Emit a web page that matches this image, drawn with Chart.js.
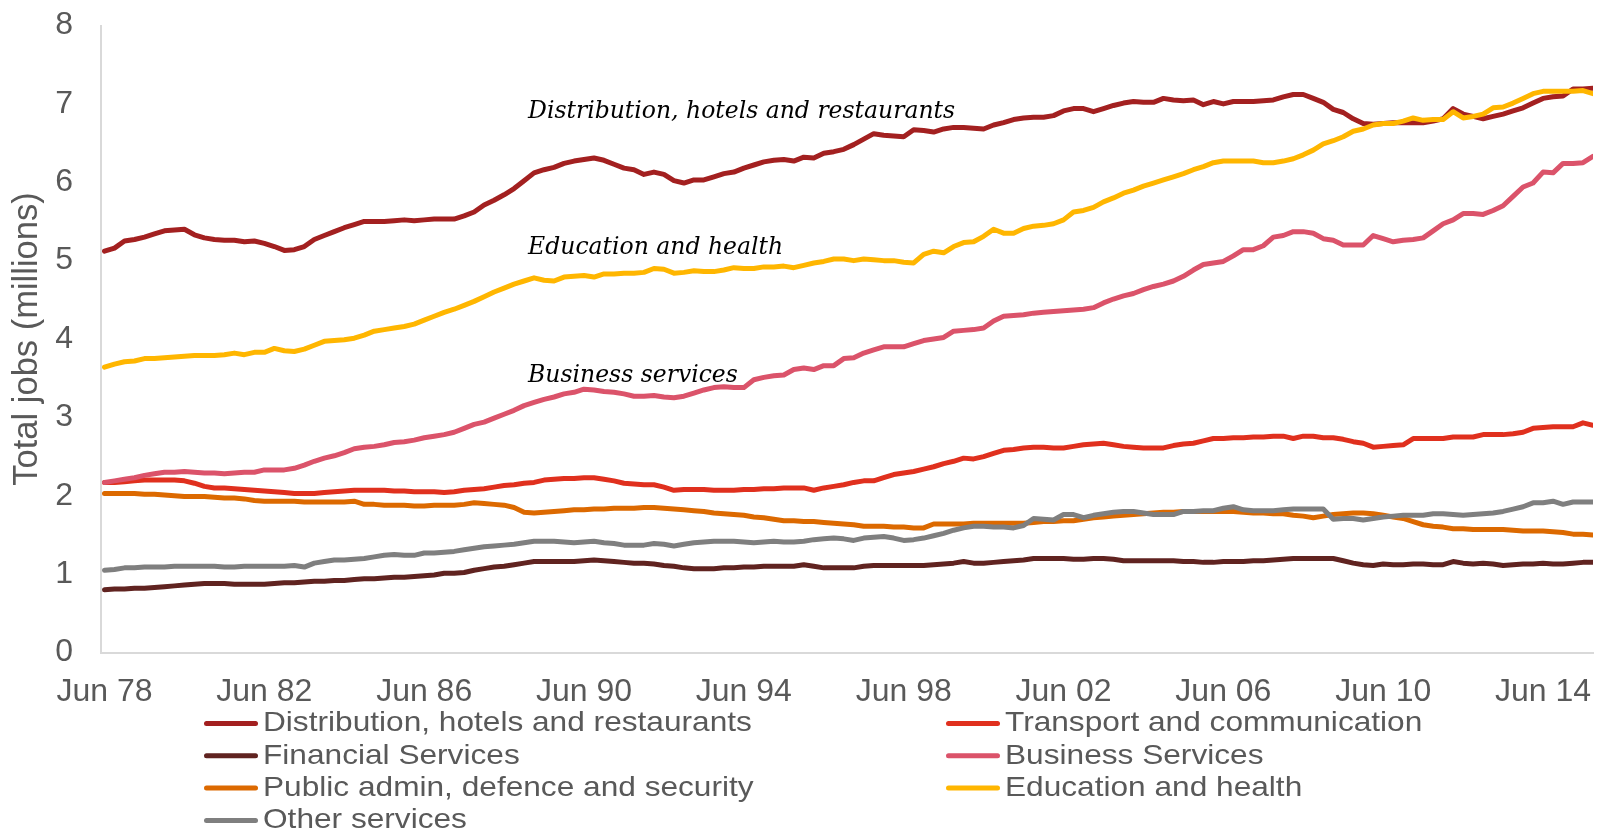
<!DOCTYPE html>
<html>
<head>
<meta charset="utf-8">
<title>Total jobs by sector</title>
<script src="https://cdn.jsdelivr.net/npm/chart.js@4.4.0/dist/chart.umd.min.js"></script>
<style>
	html, body { margin: 0; padding: 0; background: #fff; }
	#chart { display: block; }
</style>
</head>
<body>
<canvas id="chart" width="1604" height="832"></canvas>
<script>
//-------------------------------------------------------------------------------------------------//
//--------------------------------------- Data ----------------------------------------------------//
//-------------------------------------------------------------------------------------------------//

// Quarterly totals in millions of jobs, Jun 78 .. Sep 15 (150 quarters)

var distribution = [
	5.12, 5.16, 5.25, 5.27, 5.30, 5.34, 5.38, 5.39, 5.40, 5.33,
	5.29, 5.27, 5.26, 5.26, 5.24, 5.25, 5.22, 5.18, 5.13, 5.14,
	5.18, 5.27, 5.32, 5.37, 5.42, 5.46, 5.50, 5.50, 5.50, 5.51,
	5.52, 5.51, 5.52, 5.53, 5.53, 5.53, 5.57, 5.62, 5.71, 5.77,
	5.84, 5.92, 6.02, 6.12, 6.16, 6.19, 6.24, 6.27, 6.29, 6.31,
	6.28, 6.23, 6.18, 6.16, 6.10, 6.13, 6.10, 6.02, 5.99, 6.03,
	6.03, 6.07, 6.11, 6.13, 6.18, 6.22, 6.26, 6.28, 6.29, 6.27,
	6.32, 6.31, 6.37, 6.39, 6.42, 6.48, 6.55, 6.62, 6.60, 6.59,
	6.58, 6.67, 6.66, 6.64, 6.68, 6.70, 6.70, 6.69, 6.68, 6.73,
	6.76, 6.80, 6.82, 6.83, 6.83, 6.85, 6.91, 6.94, 6.94, 6.90,
	6.94, 6.98, 7.01, 7.03, 7.02, 7.02, 7.07, 7.05, 7.04, 7.05,
	6.99, 7.03, 7.00, 7.03, 7.03, 7.03, 7.04, 7.05, 7.09, 7.12,
	7.12, 7.07, 7.02, 6.93, 6.89, 6.81, 6.75, 6.74, 6.75, 6.76,
	6.76, 6.76, 6.76, 6.78, 6.81, 6.94, 6.87, 6.84, 6.81, 6.84,
	6.87, 6.91, 6.95, 7.01, 7.07, 7.09, 7.10, 7.19, 7.19, 7.20
];

var transport = [
	2.17, 2.17, 2.18, 2.19, 2.20, 2.20, 2.20, 2.20, 2.19, 2.16,
	2.12, 2.10, 2.10, 2.09, 2.08, 2.07, 2.06, 2.05, 2.04, 2.03,
	2.03, 2.03, 2.04, 2.05, 2.06, 2.07, 2.07, 2.07, 2.07, 2.06,
	2.06, 2.05, 2.05, 2.05, 2.04, 2.05, 2.07, 2.08, 2.09, 2.11,
	2.13, 2.14, 2.16, 2.17, 2.20, 2.21, 2.22, 2.22, 2.23, 2.23,
	2.21, 2.19, 2.16, 2.15, 2.14, 2.14, 2.11, 2.07, 2.08, 2.08,
	2.08, 2.07, 2.07, 2.07, 2.08, 2.08, 2.09, 2.09, 2.10, 2.10,
	2.10, 2.07, 2.10, 2.12, 2.14, 2.17, 2.19, 2.19, 2.23, 2.27,
	2.29, 2.31, 2.34, 2.37, 2.41, 2.44, 2.48, 2.47, 2.50, 2.54,
	2.58, 2.59, 2.61, 2.62, 2.62, 2.61, 2.61, 2.63, 2.65, 2.66,
	2.67, 2.65, 2.63, 2.62, 2.61, 2.61, 2.61, 2.64, 2.66, 2.67,
	2.70, 2.73, 2.73, 2.74, 2.74, 2.75, 2.75, 2.76, 2.76, 2.73,
	2.76, 2.76, 2.74, 2.74, 2.72, 2.69, 2.67, 2.62, 2.63, 2.64,
	2.65, 2.73, 2.73, 2.73, 2.73, 2.75, 2.75, 2.75, 2.78, 2.78,
	2.78, 2.79, 2.81, 2.86, 2.87, 2.88, 2.88, 2.88, 2.93, 2.90
];

var financial = [
	0.80, 0.81, 0.81, 0.82, 0.82, 0.83, 0.84, 0.85, 0.86, 0.87,
	0.88, 0.88, 0.88, 0.87, 0.87, 0.87, 0.87, 0.88, 0.89, 0.89,
	0.90, 0.91, 0.91, 0.92, 0.92, 0.93, 0.94, 0.94, 0.95, 0.96,
	0.96, 0.97, 0.98, 0.99, 1.01, 1.01, 1.02, 1.05, 1.07, 1.09,
	1.10, 1.12, 1.14, 1.16, 1.16, 1.16, 1.16, 1.16, 1.17, 1.18,
	1.17, 1.16, 1.15, 1.14, 1.14, 1.13, 1.11, 1.10, 1.08, 1.07,
	1.07, 1.07, 1.08, 1.08, 1.09, 1.09, 1.10, 1.10, 1.10, 1.10,
	1.12, 1.10, 1.08, 1.08, 1.08, 1.08, 1.10, 1.11, 1.11, 1.11,
	1.11, 1.11, 1.11, 1.12, 1.13, 1.14, 1.16, 1.14, 1.14, 1.15,
	1.16, 1.17, 1.18, 1.20, 1.20, 1.20, 1.20, 1.19, 1.19, 1.20,
	1.20, 1.19, 1.17, 1.17, 1.17, 1.17, 1.17, 1.17, 1.16, 1.16,
	1.15, 1.15, 1.16, 1.16, 1.16, 1.17, 1.17, 1.18, 1.19, 1.20,
	1.20, 1.20, 1.20, 1.20, 1.17, 1.14, 1.12, 1.11, 1.13, 1.12,
	1.12, 1.13, 1.13, 1.12, 1.12, 1.16, 1.14, 1.13, 1.14, 1.13,
	1.11, 1.12, 1.13, 1.13, 1.14, 1.13, 1.13, 1.14, 1.15, 1.15
];

var business = [
	2.17, 2.19, 2.21, 2.23, 2.26, 2.28, 2.30, 2.30, 2.31, 2.30,
	2.29, 2.29, 2.28, 2.29, 2.30, 2.30, 2.33, 2.33, 2.33, 2.35,
	2.39, 2.44, 2.48, 2.51, 2.55, 2.60, 2.62, 2.63, 2.65, 2.68,
	2.69, 2.71, 2.74, 2.76, 2.78, 2.81, 2.86, 2.91, 2.94, 2.99,
	3.04, 3.09, 3.15, 3.19, 3.23, 3.26, 3.30, 3.32, 3.36, 3.35,
	3.33, 3.32, 3.30, 3.27, 3.27, 3.28, 3.26, 3.25, 3.27, 3.31,
	3.35, 3.38, 3.39, 3.38, 3.38, 3.48, 3.51, 3.53, 3.54, 3.61,
	3.63, 3.61, 3.66, 3.66, 3.75, 3.76, 3.82, 3.86, 3.90, 3.90,
	3.90, 3.94, 3.98, 4.00, 4.02, 4.10, 4.11, 4.12, 4.14, 4.23,
	4.29, 4.30, 4.31, 4.33, 4.34, 4.35, 4.36, 4.37, 4.38, 4.40,
	4.46, 4.51, 4.55, 4.58, 4.63, 4.67, 4.70, 4.74, 4.80, 4.88,
	4.95, 4.97, 4.99, 5.06, 5.14, 5.14, 5.19, 5.30, 5.32, 5.37,
	5.37, 5.35, 5.28, 5.26, 5.20, 5.20, 5.20, 5.32, 5.28, 5.24,
	5.26, 5.27, 5.29, 5.38, 5.47, 5.52, 5.60, 5.60, 5.59, 5.64,
	5.70, 5.82, 5.94, 5.99, 6.13, 6.12, 6.24, 6.24, 6.25, 6.33
];

var publicAdmin = [
	2.03, 2.03, 2.03, 2.03, 2.02, 2.02, 2.01, 2.00, 1.99, 1.99,
	1.99, 1.98, 1.97, 1.97, 1.96, 1.94, 1.93, 1.93, 1.93, 1.93,
	1.92, 1.92, 1.92, 1.92, 1.92, 1.93, 1.89, 1.89, 1.88, 1.88,
	1.88, 1.87, 1.87, 1.88, 1.88, 1.88, 1.89, 1.91, 1.90, 1.89,
	1.88, 1.85, 1.79, 1.78, 1.79, 1.80, 1.81, 1.82, 1.82, 1.83,
	1.83, 1.84, 1.84, 1.84, 1.85, 1.85, 1.84, 1.83, 1.82, 1.81,
	1.80, 1.78, 1.77, 1.76, 1.75, 1.73, 1.72, 1.70, 1.68, 1.68,
	1.67, 1.67, 1.66, 1.65, 1.64, 1.63, 1.61, 1.61, 1.61, 1.60,
	1.60, 1.59, 1.59, 1.64, 1.64, 1.64, 1.64, 1.65, 1.65, 1.65,
	1.65, 1.65, 1.65, 1.66, 1.67, 1.67, 1.68, 1.68, 1.70, 1.72,
	1.73, 1.74, 1.75, 1.76, 1.77, 1.78, 1.79, 1.79, 1.80, 1.80,
	1.80, 1.80, 1.80, 1.80, 1.79, 1.78, 1.78, 1.77, 1.77, 1.75,
	1.74, 1.72, 1.74, 1.76, 1.77, 1.78, 1.78, 1.77, 1.75, 1.73,
	1.71, 1.67, 1.63, 1.61, 1.60, 1.58, 1.58, 1.57, 1.57, 1.57,
	1.57, 1.56, 1.55, 1.55, 1.55, 1.54, 1.53, 1.51, 1.51, 1.50
];

var education = [
	3.64, 3.68, 3.71, 3.72, 3.75, 3.75, 3.76, 3.77, 3.78, 3.79,
	3.79, 3.79, 3.80, 3.82, 3.80, 3.83, 3.83, 3.88, 3.85, 3.84,
	3.87, 3.92, 3.97, 3.98, 3.99, 4.01, 4.05, 4.10, 4.12, 4.14,
	4.16, 4.19, 4.24, 4.29, 4.34, 4.38, 4.43, 4.48, 4.54, 4.60,
	4.65, 4.70, 4.74, 4.78, 4.75, 4.74, 4.79, 4.80, 4.81, 4.79,
	4.83, 4.83, 4.84, 4.84, 4.85, 4.90, 4.89, 4.84, 4.85, 4.87,
	4.86, 4.86, 4.88, 4.91, 4.90, 4.90, 4.92, 4.92, 4.93, 4.91,
	4.94, 4.97, 4.99, 5.02, 5.02, 5.00, 5.02, 5.01, 5.00, 5.00,
	4.98, 4.97, 5.08, 5.12, 5.10, 5.18, 5.23, 5.24, 5.31, 5.40,
	5.35, 5.35, 5.41, 5.44, 5.45, 5.47, 5.52, 5.62, 5.64, 5.68,
	5.75, 5.80, 5.86, 5.90, 5.95, 5.99, 6.03, 6.07, 6.11, 6.16,
	6.20, 6.25, 6.27, 6.27, 6.27, 6.27, 6.25, 6.25, 6.27, 6.30,
	6.35, 6.41, 6.49, 6.53, 6.58, 6.65, 6.68, 6.73, 6.75, 6.75,
	6.78, 6.82, 6.79, 6.80, 6.80, 6.90, 6.82, 6.84, 6.87, 6.95,
	6.96, 7.01, 7.07, 7.13, 7.16, 7.16, 7.16, 7.16, 7.17, 7.13
];

var otherServices = [
	1.05, 1.06, 1.08, 1.08, 1.09, 1.09, 1.09, 1.10, 1.10, 1.10,
	1.10, 1.10, 1.09, 1.09, 1.10, 1.10, 1.10, 1.10, 1.10, 1.11,
	1.09, 1.14, 1.16, 1.18, 1.18, 1.19, 1.20, 1.22, 1.24, 1.25,
	1.24, 1.24, 1.27, 1.27, 1.28, 1.29, 1.31, 1.33, 1.35, 1.36,
	1.37, 1.38, 1.40, 1.42, 1.42, 1.42, 1.41, 1.40, 1.41, 1.42,
	1.40, 1.39, 1.37, 1.37, 1.37, 1.39, 1.38, 1.36, 1.38, 1.40,
	1.41, 1.42, 1.42, 1.42, 1.41, 1.40, 1.41, 1.42, 1.41, 1.41,
	1.42, 1.44, 1.45, 1.46, 1.45, 1.43, 1.46, 1.47, 1.48, 1.46,
	1.43, 1.44, 1.46, 1.49, 1.52, 1.56, 1.59, 1.61, 1.61, 1.60,
	1.60, 1.59, 1.62, 1.71, 1.70, 1.69, 1.76, 1.76, 1.72, 1.75,
	1.77, 1.79, 1.80, 1.80, 1.78, 1.76, 1.76, 1.76, 1.80, 1.80,
	1.81, 1.81, 1.84, 1.86, 1.82, 1.81, 1.81, 1.81, 1.82, 1.83,
	1.83, 1.83, 1.83, 1.70, 1.71, 1.71, 1.69, 1.71, 1.73, 1.74,
	1.75, 1.75, 1.75, 1.77, 1.77, 1.76, 1.75, 1.76, 1.77, 1.78,
	1.80, 1.83, 1.86, 1.91, 1.91, 1.93, 1.89, 1.92, 1.92, 1.92
];

// one axis label every four years (16 quarters), starting at the first quarter
var tickLabels = ['Jun 78', 'Jun 82', 'Jun 86', 'Jun 90', 'Jun 94', 'Jun 98', 'Jun 02', 'Jun 06', 'Jun 10', 'Jun 14'];
var quartersPerTick = 16;

// italic notes, anchored at (quarter index, value) of their left baseline
var notes = [
	{ text: 'Distribution, hotels and restaurants', quarter: 42.4, value: 6.82 },
	{ text: 'Education and health', quarter: 42.4, value: 5.08 },
	{ text: 'Business services', quarter: 42.4, value: 3.45 }
];

//-------------------------------------------------------------------------------------------------//
//--------------------------------------- Chart ---------------------------------------------------//
//-------------------------------------------------------------------------------------------------//

var sansFont = '"Liberation Sans", Arial, sans-serif';
var textGrey = '#595959';

function makeSeries(label, values, color, index) {
	return {
		label: label,
		data: values.map((v, i) => ({ x: i, y: v })),
		borderColor: color,
		backgroundColor: color,
		borderWidth: 5,
		pointRadius: 0,
		tension: 0,
		borderJoinStyle: 'round',
		borderCapStyle: 'round',
		// later series sit on top of earlier ones
		order: 10 - index
	};
}

// legend laid out in two columns, read row by row
var columnLegend = {
	id: 'columnLegend',
	afterDraw: function(chart) {
		var ctx = chart.ctx;
		var columns = [204, 946];
		var firstRow = 723.5;
		var rowStep = 32.3;

		ctx.save();
		ctx.font = '28.5px ' + sansFont;
		ctx.textBaseline = 'middle';
		ctx.textAlign = 'left';

		chart.data.datasets.forEach((ds, i) => {
			var x = columns[i % 2];
			var y = firstRow + Math.floor(i / 2) * rowStep;

			ctx.strokeStyle = ds.borderColor;
			ctx.lineWidth = 5;
			ctx.lineCap = 'round';
			ctx.beginPath();
			ctx.moveTo(x + 2.5, y);
			ctx.lineTo(x + 51.5, y);
			ctx.stroke();

			ctx.save();
			ctx.translate(x + 59, y);
			ctx.scale(1.11, 1);
			ctx.fillStyle = textGrey;
			ctx.fillText(ds.label, 0, 0);
			ctx.restore();
		});

		ctx.restore();
	}
};

var seriesNotes = {
	id: 'seriesNotes',
	afterDatasetsDraw: function(chart) {
		var ctx = chart.ctx;
		var xScale = chart.scales.x;
		var yScale = chart.scales.y;

		ctx.save();
		ctx.font = 'italic 23.5px "DejaVu Serif", Georgia, serif';
		ctx.fillStyle = '#000';
		ctx.textAlign = 'left';
		ctx.textBaseline = 'alphabetic';
		notes.forEach(n => {
			ctx.fillText(n.text, xScale.getPixelForValue(n.quarter), yScale.getPixelForValue(n.value));
		});
		ctx.restore();
	}
};

var datasets = [
	makeSeries('Distribution, hotels and restaurants', distribution, '#A32020', 0),
	makeSeries('Transport and communication', transport, '#E0301E', 1),
	makeSeries('Financial Services', financial, '#602320', 2),
	makeSeries('Business Services', business, '#DB536A', 3),
	makeSeries('Public admin, defence and security', publicAdmin, '#DC6900', 4),
	makeSeries('Education and health', education, '#FFB600', 5),
	makeSeries('Other services', otherServices, '#7F7F7F', 6)
];

var ctx = document.getElementById('chart');

new Chart(ctx, {
	type: 'line',
	data: { datasets: datasets },
	plugins: [seriesNotes, columnLegend],
	options: {
		responsive: false,
		animation: false,
		devicePixelRatio: 1,
		layout: { padding: { top: 25.5, right: 11, bottom: 0, left: 0 } },
		plugins: {
			legend: { display: false },
			tooltip: { enabled: false }
		},
		scales: {
			x: {
				type: 'linear',
				min: -0.35,
				max: distribution.length - 1,
				grid: { display: false, drawTicks: false },
				border: { color: '#D9D9D9', width: 2 },
				ticks: {
					font: { family: sansFont, size: 32 },
					color: textGrey,
					padding: 20,
					maxRotation: 0,
					autoSkip: false,
					callback: (value, index) => tickLabels[index]
				},
				afterBuildTicks: axis => {
					axis.ticks = tickLabels.map((t, i) => ({ value: i * quartersPerTick }));
				},
				afterFit: axis => {
					// leave the lower band for the legend; edges come from layout padding only
					axis.height = 179.5;
					axis.paddingLeft = 0;
					axis.paddingRight = 0;
				}
			},
			y: {
				min: 0,
				max: 8,
				grid: { display: false, drawTicks: false },
				border: { color: '#D9D9D9', width: 2 },
				ticks: {
					stepSize: 1,
					font: { family: sansFont, size: 32 },
					color: textGrey,
					padding: 28
				},
				title: {
					display: true,
					text: 'Total jobs (millions)',
					font: { family: sansFont, size: 34.5 },
					color: textGrey,
					padding: { top: 7, bottom: 0 }
				},
				afterFit: axis => {
					axis.width = 101;
					axis.paddingTop = 0;
					axis.paddingBottom = 0;
				}
			}
		}
	}
});
</script>
</body>
</html>
